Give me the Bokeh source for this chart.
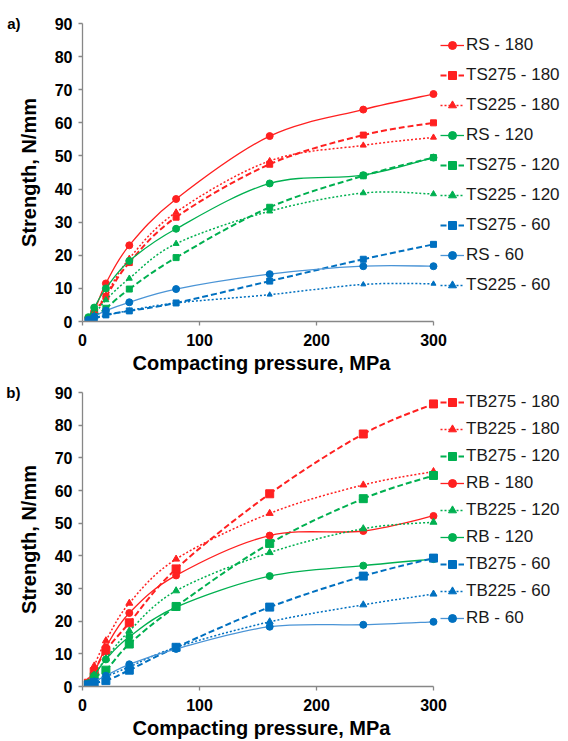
import numpy as np
from bokeh.plotting import figure
from bokeh.models import Range1d, FixedTicker, Legend, LegendItem, LinearAxis
from bokeh.layouts import column
from bokeh.embed import file_html
from bokeh.resources import INLINE

# ---------------- data ----------------
pressure = [5, 10, 20, 40, 80, 160, 240, 300]
x_ticks = [0, 100, 200, 300]
y_ticks = [0, 10, 20, 30, 40, 50, 60, 70, 80, 90]

# panel a)
a_labels = ["RS - 180", "TS275 - 180", "TS225 - 180", "RS - 120", "TS275 - 120",
            "TS225 - 120", "TS275 - 60", "RS - 60", "TS225 - 60"]
rs_180 = [1.0, 3.0, 11.5, 23.0, 37.0, 56.0, 64.0, 68.7]
ts275_180 = [0.8, 2.5, 7.5, 17.8, 31.5, 47.5, 56.3, 60.0]
ts225_180 = [0.8, 2.8, 8.0, 19.0, 33.0, 48.5, 53.2, 55.6]
rs_120 = [1.3, 4.2, 10.0, 18.3, 28.0, 41.7, 44.2, 49.5]
ts275_120 = [0.5, 1.5, 4.0, 9.8, 19.3, 34.5, 44.0, 49.5]
ts225_120 = [0.6, 2.0, 6.5, 13.0, 23.5, 33.3, 38.8, 38.5]
ts275_60 = [0.3, 1.0, 2.0, 3.2, 5.6, 12.2, 18.8, 23.3]
rs_60 = [0.5, 1.5, 3.3, 5.8, 9.8, 14.3, 16.7, 16.7]
ts225_60 = [0.3, 0.8, 1.8, 3.3, 5.6, 8.1, 11.2, 11.4]
a_series = [rs_180, ts275_180, ts225_180, rs_120, ts275_120, ts225_120, ts275_60, rs_60, ts225_60]

# panel b)
b_labels = ["TB275 - 180", "TB225 - 180", "TB275 - 120", "RB - 180", "TB225 - 120",
            "RB - 120", "TB275 - 60", "TB225 - 60", "RB - 60"]
tb275_180 = [1.0, 4.5, 11.0, 19.5, 36.0, 59.0, 77.3, 86.5]
tb225_180 = [1.5, 6.3, 14.0, 25.5, 39.0, 53.0, 61.7, 65.8]
tb275_120 = [0.5, 3.0, 5.0, 13.0, 24.5, 43.8, 57.5, 64.6]
rb_180 = [1.0, 4.0, 12.0, 22.5, 34.0, 46.2, 47.6, 52.2]
tb225_120 = [1.0, 3.5, 8.5, 17.0, 29.3, 41.0, 48.3, 50.3]
rb_120 = [1.0, 3.3, 8.3, 15.2, 24.3, 33.8, 37.0, 39.0]
tb275_60 = [0.5, 1.2, 1.8, 5.0, 12.0, 24.3, 33.8, 39.3]
tb225_60 = [0.5, 1.5, 3.0, 6.0, 12.0, 19.8, 25.0, 28.3]
rb_60 = [0.5, 1.5, 3.3, 6.8, 11.5, 18.3, 18.9, 19.8]
b_series = [tb275_180, tb225_180, tb275_120, rb_180, tb225_120, rb_120, tb275_60, tb225_60, rb_60]

# ---------------- styles ----------------
RED, GREEN, BLUE, LBLUE = "#FF2020", "#00B050", "#0070C0", "#4A94D6"
STY = {
    "solid": dict(dash="solid", lw=1.3),
    "dash": dict(dash="6 3", lw=2.0),
    "dot": dict(dash="2 2", lw=1.5),
}
a_style = [(RED, RED, "solid", "circle", 7), (RED, RED, "dash", "square", 6),
           (RED, RED, "dot", "triangle", 6), (GREEN, GREEN, "solid", "circle", 7),
           (GREEN, GREEN, "dash", "square", 6), (GREEN, GREEN, "dot", "triangle", 6),
           (BLUE, BLUE, "dash", "square", 6), (LBLUE, BLUE, "solid", "circle", 7),
           (BLUE, BLUE, "dot", "triangle", 5)]
b_style = [(RED, RED, "dash", "square", 8), (RED, RED, "dot", "triangle", 7),
           (GREEN, GREEN, "dash", "square", 8), (RED, RED, "solid", "circle", 7),
           (GREEN, GREEN, "dot", "triangle", 7), (GREEN, GREEN, "solid", "circle", 7),
           (BLUE, BLUE, "dash", "square", 8), (BLUE, BLUE, "dot", "triangle", 7),
           (LBLUE, BLUE, "solid", "circle", 7)]

FONT = "Liberation Sans"
FRAME_W = 358


def smooth(x, y):
    x = np.asarray(x, float)
    y = np.asarray(y, float)
    n = len(x)
    xp = np.concatenate([[x[0]], x, [x[-1]]])
    yp = np.concatenate([[y[0]], y, [y[-1]]])
    cx0 = x[:-1] + (xp[2:n + 1] - xp[0:n - 1]) / 6.0
    cy0 = y[:-1] + (yp[2:n + 1] - yp[0:n - 1]) / 6.0
    cx1 = x[1:] - (xp[3:n + 2] - xp[1:n]) / 6.0
    cy1 = y[1:] - (yp[3:n + 2] - yp[1:n]) / 6.0
    return dict(x0=x[:-1], y0=y[:-1], x1=x[1:], y1=y[1:], cx0=cx0, cy0=cy0, cx1=cx1, cy1=cy1)


def make_panel(tag, labels, series, styles, frame_h, top, leg_pad, leg_spacing, leg_shift):
    p = figure(frame_width=FRAME_W, frame_height=frame_h,
               x_range=Range1d(0, 306), y_range=Range1d(0, 90),
               output_backend="svg", toolbar_location=None,
               min_border_left=82, min_border_top=top, min_border_right=0,
               min_border_bottom=0)
    p.outline_line_color = None
    p.grid.visible = False
    for ax in (p.xaxis[0], p.yaxis[0]):
        ax.axis_line_color = "#878787"
        ax.axis_line_width = 1.3
        ax.major_tick_line_color = "#878787"
        ax.major_tick_line_width = 1.3
        ax.major_tick_in = 0
        ax.major_tick_out = 4
        ax.minor_tick_line_color = None
        ax.minor_tick_in = 0
        ax.minor_tick_out = 0
        ax.major_label_text_font = FONT
        ax.major_label_text_font_style = "bold"
        ax.major_label_text_font_size = "16px"
        ax.major_label_text_color = "#000000"
        ax.axis_label_text_font = FONT
        ax.axis_label_text_font_style = "bold"
        ax.axis_label_text_font_size = "20px"
        ax.axis_label_text_color = "#000000"
    p.xaxis.ticker = FixedTicker(ticks=x_ticks)
    p.yaxis.ticker = FixedTicker(ticks=y_ticks)
    p.xaxis.bounds = (0, 300)
    p.xaxis.axis_label = "Compacting pressure, MPa"
    p.yaxis.axis_label = "Strength, N/mm"
    p.xaxis.major_label_standoff = 8
    p.xaxis.axis_label_standoff = 3
    p.yaxis.major_label_standoff = 6
    p.yaxis.axis_label_standoff = 12

    # panel tag "a)" / "b)" level with the top tick
    tag_axis = LinearAxis(ticker=FixedTicker(ticks=[90]), major_label_overrides={90: tag},
                          axis_line_color=None, major_tick_line_color=None,
                          minor_tick_line_color=None, major_tick_in=0, major_tick_out=0,
                          minor_tick_in=0, minor_tick_out=0, major_label_standoff=-6,
                          major_label_text_font=FONT, major_label_text_font_style="bold",
                          major_label_text_font_size="15px", major_label_text_color="#000000")
    p.add_layout(tag_axis, "left")

    items = []
    for lab, vals, (lc, mc, st, mk, sz) in zip(labels, series, styles):
        s = STY[st]
        seg = smooth(pressure, vals)
        r1 = p.bezier(line_color=lc, line_width=s["lw"], line_dash=s["dash"], **seg)
        r2 = p.scatter(pressure, vals, marker=mk, size=sz, fill_color=mc, line_color=mc)
        items.append(LegendItem(label=lab, renderers=[r1, r2]))

    leg = Legend(items=items, location="top_left", margin=0, padding=leg_pad,
                 spacing=leg_spacing, glyph_width=24, glyph_height=20, label_height=20,
                 label_standoff=2, border_line_color=None, background_fill_alpha=0,
                 label_text_font=FONT, label_text_font_size="17px",
                 label_text_color="#1a1a1a")
    if leg_shift:
        leg.title = " "
        leg.title_text_font_size = f"{leg_shift}px"
        leg.title_standoff = 2
    p.add_layout(leg, "right")
    return p


p1 = make_panel("a)", a_labels, a_series, a_style, 298, 23, 7, 10, 9)
p2 = make_panel("b)", b_labels, b_series, b_style, 294, 16, 3, 7, 0)

layout = column(p1, p2, spacing=0)
open("out.html", "w").write(file_html(layout, INLINE))
